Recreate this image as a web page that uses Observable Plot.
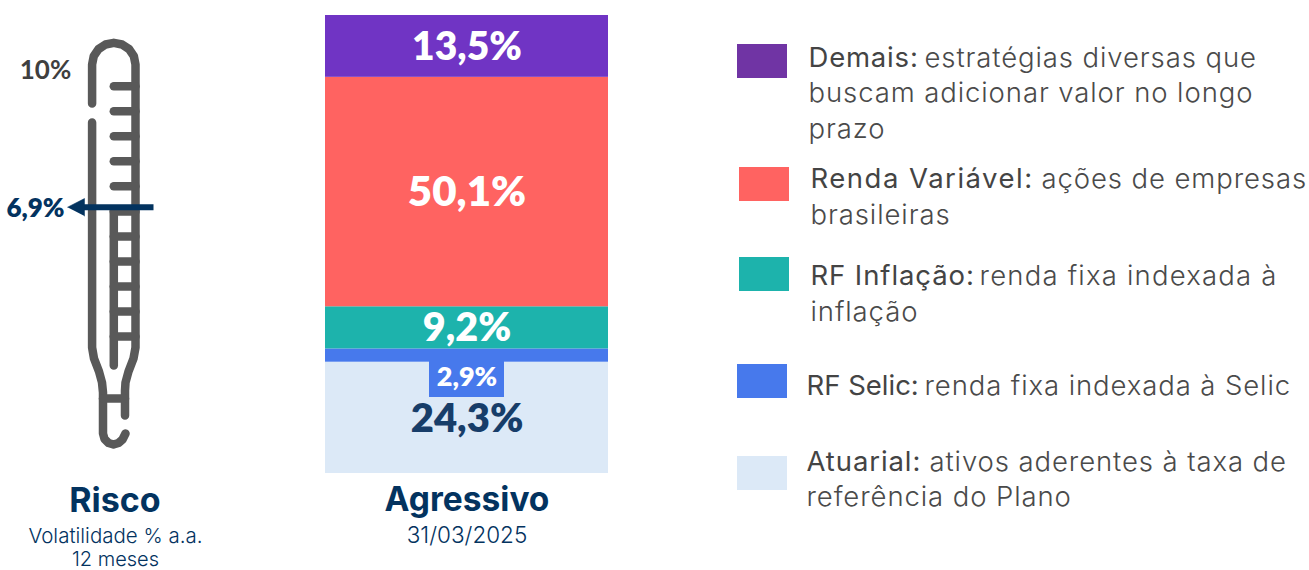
<!DOCTYPE html>
<html><head><meta charset="utf-8">
<style>
html,body{margin:0;padding:0;background:#fff;}
#wrap{position:relative;width:1309px;height:570px;overflow:hidden;}
#wrap svg{position:absolute;left:0;top:0;background:transparent;}
.lg-h0 text{letter-spacing:0.8px;}
.lg-h1 text{letter-spacing:1.5px;}
.lg-h2 text{letter-spacing:0.9px;}
.lg-h3 text{letter-spacing:0px;}
.lg-h4 text{letter-spacing:0.9px;}
.lg-body text{letter-spacing:0.9px;}
.lg-body2 text{letter-spacing:1.2px;}
</style>
<script src="https://cdn.jsdelivr.net/npm/d3@7"></script>
<script src="https://cdn.jsdelivr.net/npm/@observablehq/plot@0.6"></script>
</head><body><div id="wrap"></div>
<script>
// Allocation, bottom to top
const categories = ["Atuarial","RF Selic","RF Inflação","Renda Variável","Demais"];
const shares = [24.3,2.9,9.2,50.1,13.5];
const barColors = ["#dce9f7","#4779ec","#1db3ac","#ff6361","#7034c4"];
const shareLabels = ["24,3%","2,9%","9,2%","50,1%","13,5%"];
const labelColors = ["#173d69","#ffffff","#ffffff","#ffffff","#ffffff"];
const labelSizes = [40,27,39.5,42,39];
const labelY = [419,377,328,192,47];

const NAVY="#03335f", DARK="#3f3f3f", GREY="#595959";

// Legend
const swatchColors = ["#7034a4","#ff6361","#1db3ac","#4779ec","#dce9f7"];
const swatchBoxes = [[737,787,44,78],[739,789,167,201],[739,789,257,291],[737,787,364,398],[737,787,456,490]];
const legendHeads = [["Demais:",808,58],["Renda Variável:",810,179],["RF Inflação:",810,276],["RF Selic:",806,386],["Atuarial:",806,462]];
const legendLines = [
  ["estratégias diversas que",924,58],["buscam adicionar valor no longo",808,93],["prazo",808,129],
  ["ações de empresas",1041,179],["brasileiras",810,215],
  ["inflação",810,312],
  ["renda fixa indexada à Selic",924,386],
  ["ativos aderentes à taxa de",929,462],["referência do Plano",806,497]
];
const legendLinesWide = [["renda fixa indexada à",979,276]];

// Thermometer icon outline pieces
const thermoPieces = [
  [[91.6,103],[91.6,64],[93.25,55.7],[98,48.65],[105,44],[113.3,42.3],[121.6,44],[128.6,48.65],[133.35,55.7],[135,64],[135,347],[133,358],[128,371],[125,382],[124.5,390],[124.5,415]],
  [[91.6,122],[91.6,347],[93.5,358],[98.5,371],[101.5,382],[102.5,392],[102.5,433],[104,438.5],[108,442.5],[113,444],[118,442.5],[122,439],[125,433]],
  [[102.5,398],[124.5,398]],
  [[113.3,210],[113.3,365]],
  [[113.3,85.7],[135,85.7]],[[113.3,110.7],[135,110.7]],[[113.3,135.7],[135,135.7]],[[113.3,160.7],[135,160.7]],[[113.3,185.7],[135,185.7]],
  [[113.3,211],[135,211]],[[113.3,236],[135,236]],[[113.3,261],[135,261]],[[113.3,286],[135,286]],[[113.3,311],[135,311]],[[113.3,336],[135,336]]
];
const arrowShaft = [[153,206.7],[80,206.7]];
const arrowHead = [[67,206.7],[84,198],[84,215.5]];
const thermoRows = thermoPieces.flatMap((p,i)=>p.map(([x,y])=>({x,y,i})));

// Captions
const captions = [
  ["10%",45,70,26,700,DARK,"Lato"],["6,9%",35,208,26,800,NAVY,"Lato"],
  ["Risco",114.5,501,34,700,NAVY,"Inter"],["Volatilidade % a.a.",115,536,20.5,300,NAVY,"Inter"],["12 meses",115,559.5,20,300,NAVY,"Inter"],
  ["Agressivo",466.5,500,33.5,700,NAVY,"Inter"],["31/03/2025",466.5,535,22.5,300,NAVY,"Inter"]
];
const FONT="Inter";
const pix = {width:1309,height:570,margin:0,
  x:{domain:[0,1309],range:[0,1309],axis:null},y:{domain:[0,570],range:[0,570],axis:null}};

const base = Plot.plot({...pix,style:{fontFamily:FONT,background:"transparent"},marks:[
  Plot.line(thermoRows,{x:"x",y:"y",z:"i",stroke:GREY,strokeWidth:8.5,strokeLinecap:"round",strokeLinejoin:"round"}),
  Plot.line(arrowShaft,{x:d=>d[0],y:d=>d[1],stroke:NAVY,strokeWidth:6,strokeLinecap:"butt"}),
  Plot.line(arrowHead,{x:d=>d[0],y:d=>d[1],fill:NAVY,stroke:NAVY,strokeWidth:.5}),
  Plot.rect(swatchBoxes,{x1:d=>d[0],x2:d=>d[1],y1:d=>d[2],y2:d=>d[3],fill:(d,i)=>swatchColors[i]}),
  ...legendHeads.map((h,i)=>Plot.text([h],{x:d=>d[1],y:d=>d[2],text:d=>d[0],textAnchor:"start",fontSize:27.5,fontWeight:400,fill:"#444444",className:"lg-h"+i})),
  Plot.text(legendLines,{x:d=>d[1],y:d=>d[2],text:d=>d[0],textAnchor:"start",fontSize:27.5,fontWeight:300,fill:"#4a4a4a",className:"lg-body"}),
  Plot.text(legendLinesWide,{x:d=>d[1],y:d=>d[2],text:d=>d[0],textAnchor:"start",fontSize:27.5,fontWeight:300,fill:"#4a4a4a",className:"lg-body2"}),
  ...captions.map(c=>Plot.text([c],{x:d=>d[1],y:d=>d[2],text:d=>d[0],fontSize:c[3],fontWeight:c[4],fill:c[5],fontFamily:c[6]}))
]});

const rows = categories.map((c,i)=>({c,v:shares[i],color:barColors[i],label:shareLabels[i],lc:labelColors[i],ls:labelSizes[i],ly:labelY[i]}));
const bar = Plot.plot({width:1309,height:570,margin:0,style:{background:"transparent"},
  x:{domain:["Agressivo"],range:[325,608],padding:0,axis:null},
  y:{domain:[0,100],range:[473,15],axis:null},
  marks:[
    Plot.barY(rows,Plot.stackY({x:()=>"Agressivo",y:"v",fill:"color",order:null}))
  ]});

// Bar value labels share the pixel frame above the bars
const labels = Plot.plot({...pix,style:{fontFamily:"Lato",background:"transparent"},marks:[
  Plot.rect([0],{x1:()=>429,x2:()=>504,y1:()=>361,y2:()=>397,fill:barColors[1]}),
  ...rows.map(r=>Plot.text([r],{x:()=>466.5,y:d=>d.ly,text:d=>d.label,fontSize:r.ls,fill:r.lc,fontWeight:800}))
]});
const w=document.getElementById("wrap");
w.append(base,bar,labels);
</script></body></html>
